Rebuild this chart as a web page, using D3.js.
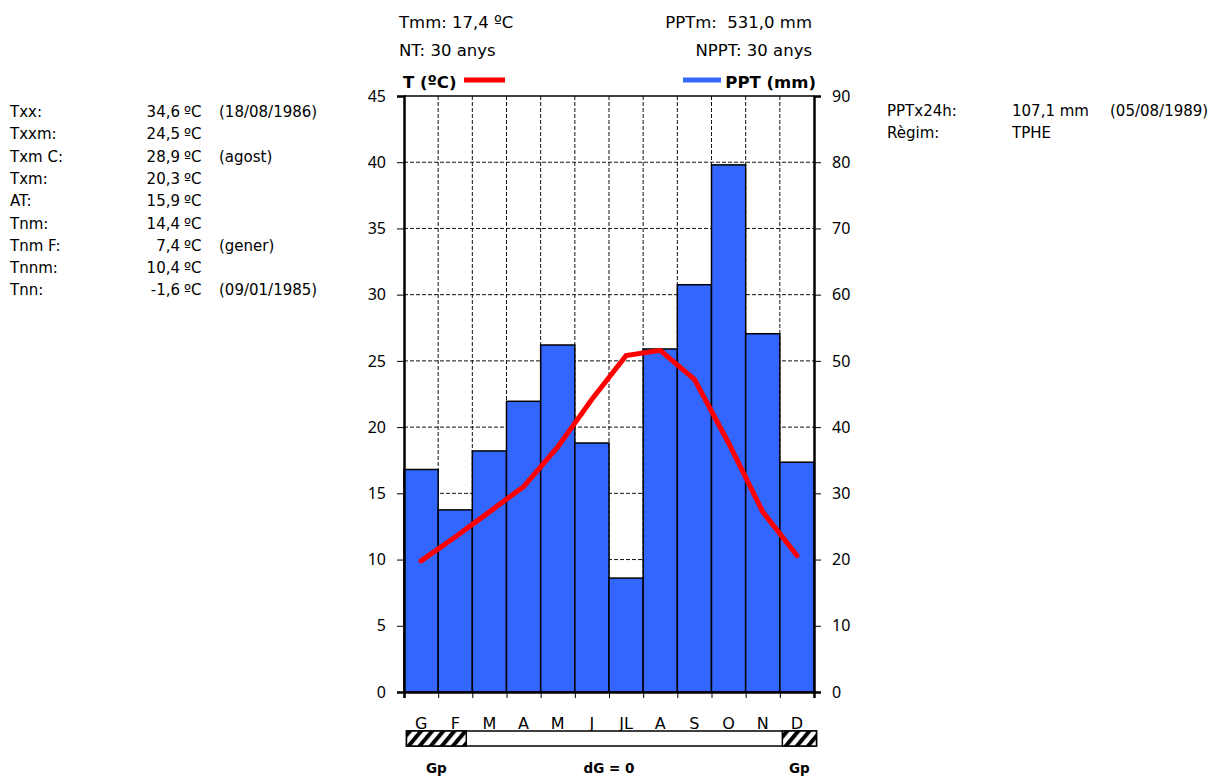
<!DOCTYPE html>
<meta charset="utf-8">
<title>Climograma</title>
<style>
	body {
		margin: 0;
		background: #fff;
		font-family: "DejaVu Sans", sans-serif;
	}
	svg text {
		fill: #000;
	}
	.grid line {
		stroke: #111;
		stroke-width: 1;
		stroke-dasharray: 4 2;
	}
	.axis path,
	.axis line {
		stroke: #000;
	}
	.axis text {
		font-size: 16px;
		font-family: "Noto Sans", sans-serif;
	}
</style>
<body>
<div id="chart"></div>
<script src="https://d3js.org/d3.v7.min.js"></script>
<script>
// ---- dades ----
var months = ["G", "F", "M", "A", "M", "J", "JL", "A", "S", "O", "N", "D"];
var temp = [9.9, 11.7, 13.6, 15.5, 18.5, 22.1, 25.4, 25.8, 23.6, 18.8, 13.6, 10.3];
var ppt = [33.6, 27.5, 36.4, 43.9, 52.4, 37.6, 17.2, 51.8, 61.5, 79.6, 54.1, 34.7];
var tempTicks = [0, 5, 10, 15, 20, 25, 30, 35, 40, 45];
var pptTicks = [0, 10, 20, 30, 40, 50, 60, 70, 80, 90];

var statLabels = ["Txx:", "Txxm:", "Txm C:", "Txm:", "AT:", "Tnm:", "Tnm F:", "Tnnm:", "Tnn:"];
var statValues = ["34,6", "24,5", "28,9", "20,3", "15,9", "14,4", "7,4", "10,4", "-1,6"];
var statNotes = ["(18/08/1986)", "", "(agost)", "", "", "", "(gener)", "", "(09/01/1985)"];
var rightLabels = ["PPTx24h:", "Règim:"];
var rightValues = ["107,1 mm", "TPHE"];
var rightNotes = ["(05/08/1989)", ""];
var headerLeft = ["Tmm: 17,4 ºC", "NT: 30 anys"];
var headerRight = ["PPTm:  531,0 mm", "NPPT: 30 anys"];
// periodes de glaçada probable (en mesos)
var gpRanges = [[0, 1.75], [11, 12]];

// ---- mides ----
var width = 1228, height = 777;
var x0 = 404, x1 = 814, yTop = 96, yBot = 692;

var svg = d3.select("#chart").append("svg")
	.attr("width", width)
	.attr("height", height);

var x = d3.scaleBand().domain(d3.range(12)).range([x0, x1]).padding(0);
var xm = d3.scaleLinear().domain([0, 12]).range([x0, x1]);
var yT = d3.scaleLinear().domain([0, 45]).range([yBot, yTop]);
var yP = d3.scaleLinear().domain([0, 90]).range([yBot, yTop]);

// ratllat per a la barra de glaçades
var defs = svg.append("defs");
var pat = defs.append("pattern")
	.attr("id", "hatch")
	.attr("patternUnits", "userSpaceOnUse")
	.attr("width", 8.5).attr("height", 8.5)
	.attr("patternTransform", "rotate(40)");
pat.append("rect").attr("width", 8.5).attr("height", 8.5).attr("fill", "#fff");
pat.append("rect").attr("width", 4).attr("height", 8.5).attr("fill", "#000");

// ---- graella ----
var grid = svg.append("g").attr("class", "grid");
grid.selectAll(".h").data(tempTicks.filter(function (d) { return d > 0 && d < 45; }))
	.enter().append("line")
	.attr("x1", x0).attr("x2", x1)
	.attr("y1", function (d) { return yT(d); })
	.attr("y2", function (d) { return yT(d); });
grid.selectAll(".v").data(d3.range(1, 12))
	.enter().append("line")
	.attr("x1", function (d) { return xm(d); })
	.attr("x2", function (d) { return xm(d); })
	.attr("y1", yTop).attr("y2", yBot);

// ---- barres de precipitacio ----
svg.append("g").selectAll("rect").data(ppt)
	.enter().append("rect")
	.attr("x", function (d, i) { return x(i); })
	.attr("y", function (d) { return yP(d); })
	.attr("width", x.bandwidth())
	.attr("height", function (d) { return yBot - yP(d); })
	.attr("fill", "#3366ff")
	.attr("stroke", "#000")
	.attr("stroke-width", 1.5);

// vora superior
svg.append("line")
	.attr("x1", x0).attr("x2", x1)
	.attr("y1", yTop).attr("y2", yTop)
	.attr("stroke", "#000").attr("stroke-width", 1.5);

// ---- eixos ----
svg.append("g").attr("class", "axis")
	.attr("transform", "translate(" + x0 + ",0)")
	.call(d3.axisLeft(yT).tickValues(tempTicks).tickSize(7).tickPadding(11).tickFormat(d3.format("d")));
svg.append("g").attr("class", "axis")
	.attr("transform", "translate(" + x1 + ",0)")
	.call(d3.axisRight(yP).tickValues(pptTicks).tickSize(7).tickPadding(11).tickFormat(d3.format("d")));
svg.append("g").attr("class", "axis")
	.attr("transform", "translate(0," + yBot + ")")
	.call(d3.axisBottom(xm).tickValues(d3.range(13)).tickSize(6).tickFormat(""));
svg.selectAll(".axis .domain").attr("stroke-width", 2.5);

// ---- linia de temperatura ----
var line = d3.line()
	.x(function (d, i) { return x(i) + x.bandwidth() / 2; })
	.y(function (d) { return yT(d); });
svg.append("path")
	.datum(temp)
	.attr("d", line)
	.attr("fill", "none")
	.attr("stroke", "#ff0000")
	.attr("stroke-width", 5)
	.attr("stroke-linejoin", "miter")
	.attr("stroke-linecap", "round");

// ---- llegenda ----
svg.append("text").attr("x", 403).attr("y", 88)
	.attr("font-size", 16.5).attr("font-weight", "bold").text("T (ºC)");
svg.append("line").attr("x1", 464).attr("x2", 505).attr("y1", 80).attr("y2", 80)
	.attr("stroke", "#ff0000").attr("stroke-width", 5);
svg.append("line").attr("x1", 683).attr("x2", 721).attr("y1", 80).attr("y2", 80)
	.attr("stroke", "#3366ff").attr("stroke-width", 5);
svg.append("text").attr("x", 816).attr("y", 88).attr("text-anchor", "end")
	.attr("font-size", 16.5).attr("font-weight", "bold").text("PPT (mm)");

// ---- capcalera ----
svg.selectAll(".hl").data(headerLeft).enter().append("text")
	.attr("x", 399).attr("y", function (d, i) { return 28 + i * 28; })
	.attr("font-size", 16.5).text(function (d) { return d; });
svg.selectAll(".hr").data(headerRight).enter().append("text")
	.attr("x", 812).attr("y", function (d, i) { return 28 + i * 28; })
	.attr("text-anchor", "end").attr("xml:space", "preserve")
	.attr("font-size", 16.5).text(function (d) { return d; });

// ---- estadistiques esquerra ----
var stats = svg.append("g").attr("font-size", 15);
statLabels.forEach(function (lab, i) {
	var yy = 117 + i * 22.3;
	stats.append("text").attr("x", 10).attr("y", yy).text(lab);
	stats.append("text").attr("x", 180).attr("y", yy).attr("text-anchor", "end").text(statValues[i]);
	stats.append("text").attr("x", 184).attr("y", yy).text("ºC");
	if (statNotes[i]) stats.append("text").attr("x", 219).attr("y", yy).text(statNotes[i]);
});

// ---- estadistiques dreta ----
rightLabels.forEach(function (lab, i) {
	var yy = 116 + i * 22.3;
	stats.append("text").attr("x", 887).attr("y", yy).text(lab);
	stats.append("text").attr("x", 1012).attr("y", yy).text(rightValues[i]);
	if (rightNotes[i]) stats.append("text").attr("x", 1110).attr("y", yy).text(rightNotes[i]);
});

// ---- mesos i barra de glaçades ----
var bx = d3.scaleLinear().domain([0, 12]).range([406.5, 816.5]);
svg.selectAll(".mes").data(months).enter().append("text")
	.attr("x", function (d, i) { return x(i) + x.bandwidth() / 2; })
	.attr("y", 729)
	.attr("text-anchor", "middle")
	.attr("font-size", 16)
	.text(function (d) { return d; });

svg.append("rect")
	.attr("x", bx(0)).attr("y", 731)
	.attr("width", bx(12) - bx(0)).attr("height", 15)
	.attr("fill", "#fff").attr("stroke", "#000").attr("stroke-width", 1.5);
svg.selectAll(".gp").data(gpRanges).enter().append("rect")
	.attr("x", function (d) { return bx(d[0]); })
	.attr("y", 731)
	.attr("width", function (d) { return bx(d[1]) - bx(d[0]); })
	.attr("height", 15)
	.attr("fill", "url(#hatch)")
	.attr("stroke", "#000").attr("stroke-width", 1.5);

svg.selectAll(".gpl").data(gpRanges).enter().append("text")
	.attr("x", function (d) { return (bx(d[0]) + bx(d[1])) / 2; })
	.attr("y", 773)
	.attr("text-anchor", "middle")
	.attr("font-size", 13.5).attr("font-weight", "bold")
	.text("Gp");
svg.append("text").attr("x", 609).attr("y", 773)
	.attr("text-anchor", "middle")
	.attr("font-size", 13.5).attr("font-weight", "bold")
	.text("dG = 0");
</script>
</body>
